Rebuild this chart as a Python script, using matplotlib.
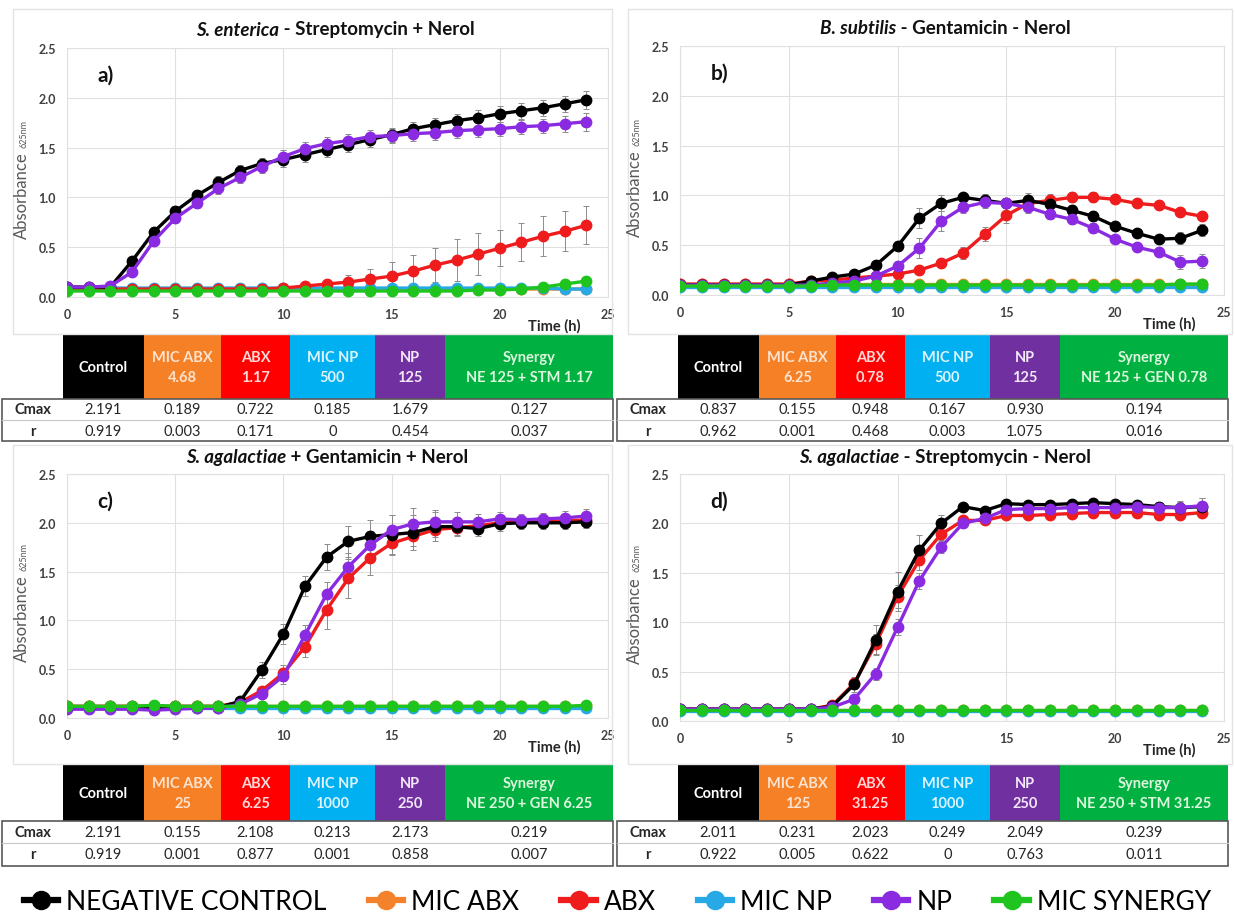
import matplotlib
matplotlib.use("Agg")
import matplotlib.pyplot as plt
from matplotlib.patches import Rectangle
from matplotlib.lines import Line2D

plt.rcParams['font.family'] = ['Lato', 'DejaVu Sans']

W, H = 1235, 920

hours = list(range(0, 25))

# colours of the six series / table headers
series_names = ["NEGATIVE CONTROL", "MIC ABX", "ABX", "MIC NP", "NP", "MIC SYNERGY"]
line_colors = ["#000000", "#F4822C", "#EE1C1C", "#27A9E6", "#8A2BE2", "#1FC41F"]
head_colors = ["#000000", "#F58025", "#FF0000", "#00B0F0", "#7030A0", "#00B040"]
head_text = ["#FFFFFF", "#FDE3D0", "#FFD9D9", "#DDF4FD", "#F3E8FA", "#DDF7DD"]

# ---- panel a : S. enterica - Streptomycin + Nerol
a_ctrl = [0.10, 0.10, 0.10, 0.36, 0.65, 0.86, 1.02, 1.15, 1.27, 1.34, 1.38, 1.43, 1.48, 1.53, 1.58, 1.63, 1.69, 1.73, 1.77, 1.80, 1.84, 1.87, 1.90, 1.94, 1.98]
a_mic_abx = [0.09, 0.08, 0.08, 0.08, 0.08, 0.08, 0.08, 0.08, 0.08, 0.08, 0.08, 0.08, 0.08, 0.08, 0.08, 0.08, 0.08, 0.08, 0.08, 0.08, 0.08, 0.08, 0.08, 0.08, 0.08]
a_abx = [0.08, 0.08, 0.08, 0.08, 0.08, 0.08, 0.08, 0.08, 0.08, 0.08, 0.09, 0.11, 0.13, 0.15, 0.18, 0.21, 0.26, 0.32, 0.37, 0.43, 0.49, 0.55, 0.61, 0.66, 0.72]
a_mic_np = [0.10, 0.09, 0.09, 0.09, 0.09, 0.09, 0.09, 0.09, 0.09, 0.09, 0.09, 0.09, 0.09, 0.09, 0.09, 0.09, 0.09, 0.09, 0.09, 0.09, 0.09, 0.09, 0.09, 0.08, 0.08]
a_np = [0.10, 0.10, 0.11, 0.25, 0.56, 0.79, 0.94, 1.09, 1.20, 1.31, 1.41, 1.49, 1.54, 1.57, 1.61, 1.62, 1.64, 1.65, 1.67, 1.68, 1.69, 1.71, 1.72, 1.74, 1.76]
a_syn = [0.06, 0.06, 0.06, 0.06, 0.06, 0.06, 0.06, 0.06, 0.06, 0.06, 0.06, 0.06, 0.06, 0.06, 0.06, 0.06, 0.06, 0.06, 0.06, 0.07, 0.07, 0.08, 0.10, 0.13, 0.16]
a_ctrl_err = [0.01, 0.01, 0.01, 0.04, 0.05, 0.05, 0.05, 0.06, 0.06, 0.06, 0.07, 0.07, 0.07, 0.07, 0.07, 0.07, 0.07, 0.07, 0.07, 0.08, 0.08, 0.08, 0.08, 0.08, 0.09]
a_abx_err = [0.01, 0.01, 0.01, 0.01, 0.01, 0.01, 0.01, 0.01, 0.01, 0.01, 0.02, 0.03, 0.04, 0.07, 0.10, 0.14, 0.16, 0.17, 0.21, 0.21, 0.18, 0.19, 0.20, 0.20, 0.19]
a_np_err = [0.01, 0.01, 0.01, 0.03, 0.04, 0.05, 0.05, 0.06, 0.06, 0.06, 0.07, 0.07, 0.07, 0.07, 0.07, 0.07, 0.07, 0.07, 0.07, 0.07, 0.07, 0.07, 0.07, 0.08, 0.09]

# ---- panel b : B. subtilis - Gentamicin - Nerol
b_ctrl = [0.10, 0.10, 0.10, 0.10, 0.10, 0.10, 0.14, 0.18, 0.21, 0.30, 0.49, 0.77, 0.92, 0.98, 0.95, 0.92, 0.95, 0.91, 0.85, 0.79, 0.69, 0.62, 0.56, 0.57, 0.65]
b_mic_abx = [0.11, 0.11, 0.11, 0.11, 0.11, 0.11, 0.11, 0.11, 0.11, 0.11, 0.11, 0.11, 0.11, 0.11, 0.11, 0.11, 0.11, 0.11, 0.11, 0.11, 0.11, 0.11, 0.11, 0.11, 0.11]
b_abx = [0.11, 0.11, 0.11, 0.11, 0.11, 0.11, 0.14, 0.15, 0.17, 0.19, 0.21, 0.25, 0.32, 0.42, 0.61, 0.80, 0.92, 0.95, 0.98, 0.98, 0.96, 0.92, 0.90, 0.83, 0.79]
b_mic_np = [0.08, 0.08, 0.08, 0.08, 0.08, 0.08, 0.08, 0.08, 0.08, 0.08, 0.08, 0.08, 0.08, 0.08, 0.08, 0.08, 0.08, 0.08, 0.08, 0.08, 0.08, 0.08, 0.08, 0.08, 0.08]
b_np = [0.10, 0.10, 0.10, 0.10, 0.10, 0.10, 0.10, 0.12, 0.14, 0.19, 0.29, 0.47, 0.74, 0.88, 0.93, 0.92, 0.88, 0.81, 0.76, 0.67, 0.56, 0.48, 0.43, 0.33, 0.34]
b_syn = [0.09, 0.09, 0.09, 0.09, 0.09, 0.09, 0.09, 0.10, 0.10, 0.10, 0.10, 0.10, 0.10, 0.10, 0.10, 0.10, 0.10, 0.10, 0.10, 0.10, 0.10, 0.10, 0.10, 0.11, 0.11]
b_ctrl_err = [0.01, 0.01, 0.01, 0.01, 0.01, 0.01, 0.01, 0.02, 0.03, 0.03, 0.05, 0.10, 0.08, 0.04, 0.06, 0.05, 0.07, 0.05, 0.05, 0.05, 0.04, 0.04, 0.04, 0.06, 0.06]
b_abx_err = [0.01, 0.01, 0.01, 0.01, 0.01, 0.01, 0.01, 0.01, 0.02, 0.02, 0.03, 0.03, 0.04, 0.06, 0.07, 0.08, 0.06, 0.06, 0.05, 0.05, 0.04, 0.04, 0.04, 0.04, 0.04]
b_np_err = [0.01, 0.01, 0.01, 0.01, 0.01, 0.01, 0.01, 0.01, 0.02, 0.03, 0.05, 0.10, 0.10, 0.06, 0.06, 0.05, 0.06, 0.05, 0.05, 0.05, 0.04, 0.04, 0.04, 0.07, 0.07]

# ---- panel c : S. agalactiae + Gentamicin + Nerol
c_ctrl = [0.11, 0.11, 0.11, 0.11, 0.11, 0.11, 0.11, 0.11, 0.17, 0.49, 0.86, 1.35, 1.65, 1.81, 1.86, 1.88, 1.90, 1.96, 1.96, 1.94, 1.99, 2.00, 2.00, 2.00, 2.01]
c_mic_abx = [0.12, 0.12, 0.12, 0.12, 0.12, 0.12, 0.12, 0.12, 0.12, 0.12, 0.12, 0.12, 0.12, 0.12, 0.12, 0.12, 0.12, 0.12, 0.12, 0.12, 0.12, 0.12, 0.12, 0.12, 0.12]
c_abx = [0.12, 0.12, 0.12, 0.12, 0.12, 0.12, 0.12, 0.12, 0.16, 0.28, 0.46, 0.73, 1.11, 1.43, 1.64, 1.79, 1.86, 1.93, 1.95, 1.97, 2.00, 2.01, 2.01, 2.02, 2.03]
c_mic_np = [0.10, 0.10, 0.10, 0.10, 0.10, 0.10, 0.10, 0.10, 0.10, 0.10, 0.10, 0.10, 0.10, 0.10, 0.10, 0.10, 0.10, 0.10, 0.10, 0.10, 0.10, 0.10, 0.10, 0.10, 0.10]
c_np = [0.09, 0.09, 0.09, 0.09, 0.08, 0.09, 0.10, 0.10, 0.14, 0.25, 0.43, 0.85, 1.27, 1.55, 1.77, 1.93, 1.99, 2.01, 2.01, 2.01, 2.04, 2.03, 2.04, 2.05, 2.07]
c_syn = [0.12, 0.12, 0.12, 0.12, 0.13, 0.12, 0.12, 0.12, 0.12, 0.12, 0.12, 0.12, 0.12, 0.12, 0.12, 0.12, 0.12, 0.12, 0.12, 0.12, 0.12, 0.12, 0.12, 0.12, 0.13]
c_ctrl_err = [0.01, 0.01, 0.01, 0.01, 0.01, 0.01, 0.01, 0.01, 0.03, 0.08, 0.10, 0.10, 0.13, 0.16, 0.17, 0.20, 0.18, 0.15, 0.10, 0.08, 0.07, 0.06, 0.06, 0.06, 0.06]
c_abx_err = [0.01, 0.01, 0.01, 0.01, 0.01, 0.01, 0.01, 0.01, 0.02, 0.04, 0.08, 0.10, 0.20, 0.20, 0.17, 0.12, 0.10, 0.08, 0.07, 0.06, 0.05, 0.05, 0.05, 0.05, 0.05]
c_np_err = [0.01, 0.01, 0.01, 0.01, 0.01, 0.01, 0.01, 0.01, 0.02, 0.04, 0.08, 0.10, 0.12, 0.14, 0.15, 0.15, 0.16, 0.12, 0.10, 0.08, 0.07, 0.06, 0.06, 0.07, 0.07]

# ---- panel d : S. agalactiae - Streptomycin - Nerol
d_ctrl = [0.12, 0.12, 0.12, 0.12, 0.12, 0.12, 0.12, 0.15, 0.37, 0.82, 1.31, 1.73, 2.00, 2.17, 2.13, 2.20, 2.19, 2.19, 2.20, 2.21, 2.20, 2.19, 2.17, 2.16, 2.17]
d_mic_abx = [0.11, 0.11, 0.11, 0.11, 0.11, 0.11, 0.11, 0.11, 0.11, 0.11, 0.11, 0.11, 0.11, 0.11, 0.11, 0.11, 0.11, 0.11, 0.11, 0.11, 0.11, 0.11, 0.11, 0.11, 0.11]
d_abx = [0.12, 0.12, 0.12, 0.12, 0.12, 0.12, 0.12, 0.16, 0.38, 0.78, 1.26, 1.63, 1.89, 2.03, 2.03, 2.08, 2.08, 2.09, 2.10, 2.11, 2.11, 2.11, 2.09, 2.09, 2.11]
d_mic_np = [0.10, 0.10, 0.10, 0.10, 0.10, 0.10, 0.10, 0.10, 0.10, 0.10, 0.10, 0.10, 0.10, 0.10, 0.10, 0.10, 0.10, 0.10, 0.10, 0.10, 0.10, 0.10, 0.10, 0.10, 0.10]
d_np = [0.12, 0.12, 0.12, 0.12, 0.12, 0.12, 0.12, 0.14, 0.22, 0.48, 0.95, 1.42, 1.76, 2.00, 2.05, 2.14, 2.15, 2.15, 2.16, 2.16, 2.16, 2.17, 2.16, 2.16, 2.18]
d_syn = [0.11, 0.11, 0.11, 0.11, 0.11, 0.11, 0.11, 0.11, 0.11, 0.11, 0.11, 0.11, 0.11, 0.11, 0.11, 0.11, 0.11, 0.11, 0.11, 0.11, 0.11, 0.11, 0.11, 0.11, 0.11]
d_ctrl_err = [0.01, 0.01, 0.01, 0.01, 0.01, 0.01, 0.01, 0.02, 0.08, 0.15, 0.20, 0.15, 0.08, 0.04, 0.04, 0.04, 0.04, 0.04, 0.04, 0.04, 0.04, 0.04, 0.05, 0.07, 0.09]
d_abx_err = [0.01, 0.01, 0.01, 0.01, 0.01, 0.01, 0.01, 0.02, 0.06, 0.10, 0.12, 0.10, 0.06, 0.04, 0.04, 0.04, 0.04, 0.04, 0.04, 0.04, 0.04, 0.04, 0.04, 0.04, 0.04]
d_np_err = [0.01, 0.01, 0.01, 0.01, 0.01, 0.01, 0.01, 0.02, 0.04, 0.06, 0.08, 0.08, 0.06, 0.04, 0.04, 0.04, 0.04, 0.04, 0.04, 0.04, 0.04, 0.04, 0.04, 0.06, 0.08]

# ---- tables
a_heads = ["Control", "MIC ABX\n4.68", "ABX\n1.17", "MIC NP\n500", "NP\n125", "Synergy\nNE 125 + STM 1.17"]
a_cmax = ["2.191", "0.189", "0.722", "0.185", "1.679", "0.127"]
a_r = ["0.919", "0.003", "0.171", "0", "0.454", "0.037"]
b_heads = ["Control", "MIC ABX\n6.25", "ABX\n0.78", "MIC NP\n500", "NP\n125", "Synergy\nNE 125 + GEN 0.78"]
b_cmax = ["0.837", "0.155", "0.948", "0.167", "0.930", "0.194"]
b_r = ["0.962", "0.001", "0.468", "0.003", "1.075", "0.016"]
c_heads = ["Control", "MIC ABX\n25", "ABX\n6.25", "MIC NP\n1000", "NP\n250", "Synergy\nNE 250 + GEN 6.25"]
c_cmax = ["2.191", "0.155", "2.108", "0.213", "2.173", "0.219"]
c_r = ["0.919", "0.001", "0.877", "0.001", "0.858", "0.007"]
d_heads = ["Control", "MIC ABX\n125", "ABX\n31.25", "MIC NP\n1000", "NP\n250", "Synergy\nNE 250 + STM 31.25"]
d_cmax = ["2.011", "0.231", "2.023", "0.249", "2.049", "0.239"]
d_r = ["0.922", "0.005", "0.622", "0", "0.763", "0.011"]


def fbox(x0, y0, x1, y1):
    return [x0 / W, 1 - y1 / H, (x1 - x0) / W, (y1 - y0) / H]


fig = plt.figure(figsize=(W / 100, H / 100), dpi=100, facecolor="white")
renderer = fig.canvas.get_renderer()


def draw_panel(letter, species, rest, title_cx, title_y, frame, plot, table_y,
               series, errs, heads, cmax, rvals):
    # light frame around the chart area
    fx0, fy0, fx1, fy1 = frame
    fig.patches.append(Rectangle((fx0 / W, 1 - fy1 / H), (fx1 - fx0) / W, (fy1 - fy0) / H,
                                 transform=fig.transFigure, fill=False,
                                 edgecolor="#E3E3E3", lw=1.0, zorder=0))
    ax = fig.add_axes(fbox(*plot))
    order = [1, 3, 2, 0, 4, 5]
    for i in order:
        e = errs.get(i)
        if e is not None:
            ax.errorbar(hours, series[i], yerr=e, fmt="none", ecolor="#8C8C8C",
                        elinewidth=0.7, capsize=2, capthick=0.7, zorder=2)
        ax.plot(hours, series[i], color=line_colors[i], lw=2.4, marker="o",
                markersize=7.5, zorder=3)
    ax.set_xlim(0, 25)
    ax.set_ylim(0, 2.5)
    ax.set_xticks([0, 5, 10, 15, 20, 25])
    ax.set_yticks([0, 0.5, 1.0, 1.5, 2.0, 2.5])
    ax.set_yticklabels(["0.0", "0.5", "1.0", "1.5", "2.0", "2.5"])
    ax.grid(True, color="#E0E0E0", lw=0.8)
    ax.set_axisbelow(True)
    for s in ax.spines.values():
        s.set_color("#E0E0E0")
    ax.tick_params(length=0, labelsize=9, colors="#404040", pad=8)
    for lab in ax.get_xticklabels() + ax.get_yticklabels():
        lab.set_fontweight("bold")
    ax.text(1.4, 2.23, letter, fontsize=15, fontweight="bold", color="#111111",
            va="center", ha="left")
    ax.text(0.90, -0.115, "Time (h)", transform=ax.transAxes, fontsize=10.5,
            fontweight="bold", color="#262626", ha="center", va="center")

    # y label with small subscript
    px0, py0, px1, py1 = plot
    lx = px0 - 45
    fig.text(lx / W, 1 - ((py0 + py1) / 2 + 22) / H, "Absorbance", rotation=90,
             fontsize=12, color="#595959", ha="center", va="center")
    fig.text((lx + 2) / W, 1 - ((py0 + py1) / 2 - 40) / H, "625nm", rotation=90,
             fontsize=6.5, color="#595959", ha="center", va="center")

    # two-part title: italic species + rest
    t1 = fig.text(0, 0, species, fontsize=13.5, fontweight="bold", style="italic", color="#111111")
    t2 = fig.text(0, 0, rest, fontsize=13.5, fontweight="bold", color="#111111")
    w1 = t1.get_window_extent(renderer).width
    w2 = t2.get_window_extent(renderer).width
    left = title_cx - (w1 + w2) / 2
    t1.set_position((left / W, 1 - title_y / H))
    t2.set_position(((left + w1) / W, 1 - title_y / H))
    t1.set_va("center")
    t2.set_va("center")

    # table under the chart
    ty0, ty1, ty2, ty3 = table_y
    edges = [c + fx0 - 13 for c in [63, 144, 221, 290, 375, 445, 613]]
    bx0 = fx0 - 11
    tax = fig.add_axes(fbox(bx0 - 2, ty0, edges[-1] + 2, ty3 + 2))
    tax.set_xlim(bx0 - 2, edges[-1] + 2)
    tax.set_ylim(ty3 + 2, ty0)
    tax.axis("off")
    for j in range(6):
        x0, x1 = edges[j], edges[j + 1]
        tax.add_patch(Rectangle((x0, ty0), x1 - x0, ty1 - ty0, color=head_colors[j], lw=0))
        tax.text((x0 + x1) / 2, (ty0 + ty1) / 2, heads[j], color=head_text[j], fontsize=10.5,
                 fontweight="bold", ha="center", va="center", linespacing=1.5)
        tax.text((x0 + x1) / 2, (ty1 + ty2) / 2, cmax[j], fontsize=10.5, color="#262626",
                 ha="center", va="center")
        tax.text((x0 + x1) / 2, (ty2 + ty3) / 2, rvals[j], fontsize=10.5, color="#262626",
                 ha="center", va="center")
    tax.text((bx0 + edges[0]) / 2, (ty1 + ty2) / 2, "Cmax", fontsize=10.5, fontweight="bold",
             color="#262626", ha="center", va="center")
    tax.text((bx0 + edges[0]) / 2, (ty2 + ty3) / 2, "r", fontsize=10.5, fontweight="bold",
             color="#262626", ha="center", va="center")
    tax.plot([bx0, edges[-1]], [ty2, ty2], color="#C8C8C8", lw=0.8)
    tax.add_patch(Rectangle((bx0, ty1), edges[-1] - bx0, ty3 - ty1, fill=False,
                            edgecolor="#595959", lw=1.2))


draw_panel("a)", "S. enterica", " - Streptomycin + Nerol", 335, 30,
           (13, 10, 612, 335), (67, 49, 608, 298), (336, 400, 421, 442),
           [a_ctrl, a_mic_abx, a_abx, a_mic_np, a_np, a_syn],
           {0: a_ctrl_err, 2: a_abx_err, 4: a_np_err}, a_heads, a_cmax, a_r)
draw_panel("b)", "B. subtilis", " - Gentamicin - Nerol", 945, 28,
           (628, 10, 1232, 335), (680, 47, 1224, 296), (336, 400, 421, 442),
           [b_ctrl, b_mic_abx, b_abx, b_mic_np, b_np, b_syn],
           {0: b_ctrl_err, 2: b_abx_err, 4: b_np_err}, b_heads, b_cmax, b_r)
draw_panel("c)", "S. agalactiae", " + Gentamicin + Nerol", 327, 458,
           (13, 446, 612, 765), (67, 475, 608, 719), (766, 822, 844, 867),
           [c_ctrl, c_mic_abx, c_abx, c_mic_np, c_np, c_syn],
           {0: c_ctrl_err, 2: c_abx_err, 4: c_np_err}, c_heads, c_cmax, c_r)
draw_panel("d)", "S. agalactiae", " - Streptomycin - Nerol", 945, 458,
           (628, 446, 1232, 765), (680, 475, 1224, 722), (766, 822, 844, 867),
           [d_ctrl, d_mic_abx, d_abx, d_mic_np, d_np, d_syn],
           {0: d_ctrl_err, 2: d_abx_err, 4: d_np_err}, d_heads, d_cmax, d_r)

handles = [Line2D([0], [0], color=c, lw=4.5, marker="o", markersize=13) for c in line_colors]
fig.legend(handles, series_names, loc="center", bbox_to_anchor=(0.5, 1 - 903 / H),
           ncol=6, frameon=False, fontsize=19, handlelength=1.3, handletextpad=0.3,
           columnspacing=1.6)

fig.savefig("out.png", dpi=100, facecolor="white")
